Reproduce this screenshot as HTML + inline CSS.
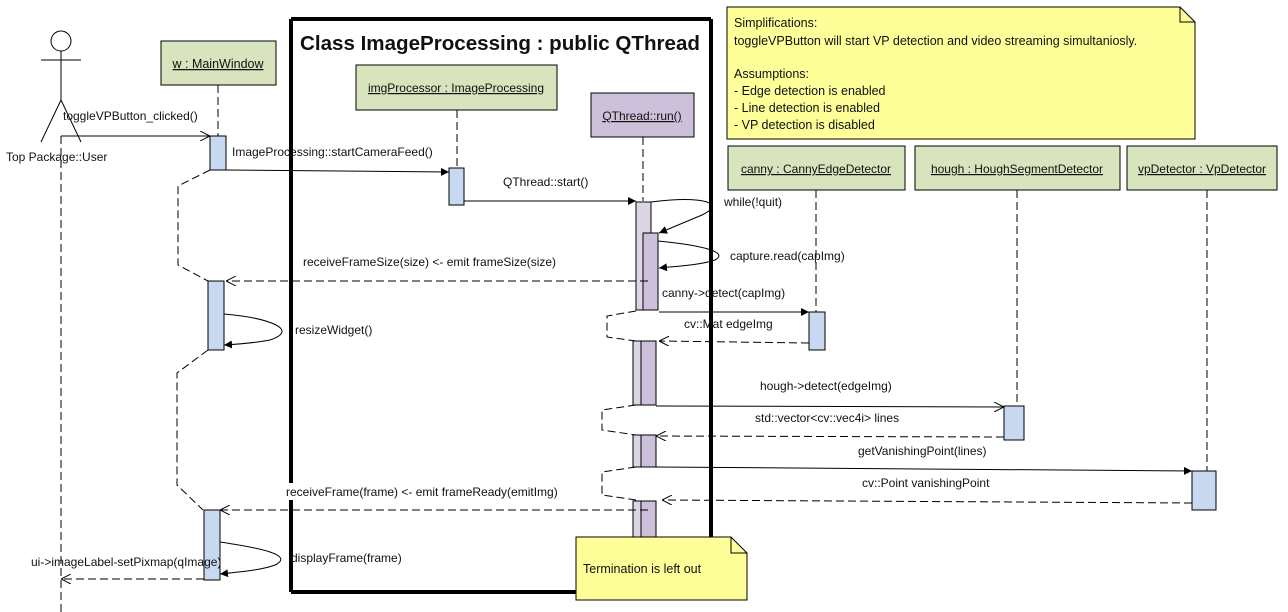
<!DOCTYPE html>
<html><head><meta charset="utf-8"><style>
html,body{margin:0;padding:0;background:#fff;width:1288px;height:612px;overflow:hidden}
svg{display:block}
text{font-family:"Liberation Sans",sans-serif;font-size:12px;fill:#111}
.n{font-size:12.5px}
</style></head><body>
<svg width="1288" height="612" viewBox="0 0 1288 612" xmlns="http://www.w3.org/2000/svg">
<defs>
<marker id="f" viewBox="0 0 10 10" refX="10" refY="5" markerWidth="8" markerHeight="8" orient="auto-start-reverse" markerUnits="userSpaceOnUse"><path d="M0,0 L10,5 L0,10 z" fill="#000"/></marker>
<marker id="o" viewBox="0 0 10 10" refX="10" refY="5" markerWidth="10" markerHeight="10" orient="auto-start-reverse" markerUnits="userSpaceOnUse"><path d="M0,0 L10,5 L0,10" fill="none" stroke="#000" stroke-width="1"/></marker>
</defs>
<g stroke="#000" fill="none" stroke-width="1">
<circle cx="61" cy="41" r="10"/>
<line x1="41" y1="60" x2="81" y2="60"/>
<line x1="61" y1="51" x2="61" y2="100"/>
<line x1="61" y1="100" x2="41" y2="142"/>
<line x1="61" y1="100" x2="81" y2="142"/>
<g stroke-dasharray="8,4">
<line x1="61" y1="136" x2="61" y2="612"/>
<line x1="218" y1="85" x2="218" y2="136"/>
<line x1="457" y1="110" x2="457" y2="168"/>
<line x1="643" y1="137" x2="643" y2="201"/>
<line x1="816" y1="190" x2="816" y2="312"/>
<line x1="1017" y1="190" x2="1017" y2="406"/>
<line x1="1207" y1="190" x2="1207" y2="471"/>
</g>
</g>
<g stroke="#000" stroke-width="4" fill="none">
<line x1="291" y1="19" x2="711" y2="19"/>
<line x1="711" y1="19" x2="711" y2="592"/>
<line x1="291" y1="592" x2="711" y2="592"/>
<line x1="291" y1="19" x2="291" y2="483"/>
<line x1="291" y1="500" x2="291" y2="592"/>
</g>
<text x="300" y="50" style="font-size:20px;font-weight:bold" textLength="400" lengthAdjust="spacingAndGlyphs">Class ImageProcessing : public QThread</text>
<g stroke="#000" stroke-width="1">
<rect x="161" y="41" width="115" height="44" fill="#d7e4bd"/>
<rect x="356" y="65" width="201" height="45" fill="#d7e4bd"/>
<rect x="591" y="93" width="103" height="44" fill="#ccc0da"/>
<rect x="728" y="146" width="177" height="44" fill="#d7e4bd"/>
<rect x="915" y="146" width="205" height="44" fill="#d7e4bd"/>
<rect x="1127" y="146" width="150" height="44" fill="#d7e4bd"/>
</g>
<g>
<text x="218" y="68" text-anchor="middle" text-decoration="underline" class="n">w : MainWindow</text>
<text x="456" y="92" text-anchor="middle" text-decoration="underline">imgProcessor : ImageProcessing</text>
<text x="642" y="120" text-anchor="middle" text-decoration="underline">QThread::run()</text>
<text x="816" y="173" text-anchor="middle" text-decoration="underline">canny : CannyEdgeDetector</text>
<text x="1017" y="173" text-anchor="middle" text-decoration="underline">hough : HoughSegmentDetector</text>
<text x="1202" y="173" text-anchor="middle" text-decoration="underline">vpDetector : VpDetector</text>
</g>
<path d="M727,7 H1180 L1195,22 V139 H727 Z" fill="#ffff99" stroke="#000"/>
<path d="M1180,7 V22 H1195" fill="none" stroke="#000"/>
<g class="n">
<text x="734" y="27" class="n">Simplifications:</text>
<text x="734" y="45" class="n">toggleVPButton will start VP detection and video streaming simultaniosly.</text>
<text x="734" y="78" class="n">Assumptions:</text>
<text x="734" y="95" class="n">- Edge detection is enabled</text>
<text x="734" y="112" class="n">- Line detection is enabled</text>
<text x="734" y="129" class="n">- VP detection is disabled</text>
</g>
<g stroke="#000" fill="none" stroke-dasharray="8,4">
<polyline points="210,170 178,186 178,265 208,281"/>
<polyline points="208,350 177,373 177,485 203,510"/>
<polyline points="636,311 607,316 607,337 636,341"/>
<polyline points="636,405 602,410 602,430 636,435"/>
<polyline points="636,467 602,472 602,495 636,500"/>
</g>
<g stroke="#000" stroke-width="1">
<rect x="210" y="136" width="16" height="34" fill="#c6d9f1"/>
<rect x="208" y="281" width="16" height="69" fill="#c6d9f1"/>
<rect x="204" y="510" width="16" height="70" fill="#c6d9f1"/>
<rect x="449" y="168" width="15" height="37" fill="#c6d9f1"/>
<rect x="636" y="202" width="15" height="108" fill="#dcd6e4"/>
<rect x="643" y="233" width="15" height="77" fill="#ccc0da"/>
<rect x="633" y="341" width="10" height="64" fill="#dcd6e4"/>
<rect x="641" y="341" width="15" height="64" fill="#ccc0da"/>
<rect x="633" y="435" width="10" height="32" fill="#dcd6e4"/>
<rect x="641" y="435" width="15" height="32" fill="#ccc0da"/>
<rect x="633" y="501" width="10" height="40" fill="#dcd6e4"/>
<rect x="641" y="501" width="15" height="40" fill="#ccc0da"/>
<rect x="809" y="312" width="16" height="38" fill="#c6d9f1"/>
<rect x="1004" y="406" width="20" height="34" fill="#c6d9f1"/>
<rect x="1192" y="471" width="24" height="39" fill="#c6d9f1"/>
</g>
<g stroke="#000" fill="none" stroke-width="1">
<line x1="61" y1="136" x2="210" y2="136" marker-end="url(#o)"/>
<line x1="226" y1="170" x2="449" y2="172" marker-end="url(#f)"/>
<line x1="464" y1="201" x2="636" y2="201" marker-end="url(#f)"/>
<path d="M651,202 C700,196 728,202 702,215 L659,233" marker-end="url(#f)"/>
<path d="M658,241 C700,245 730,252 715,260 C700,265 680,266 659,268" marker-end="url(#f)"/>
<line x1="648" y1="281" x2="226" y2="281" stroke-dasharray="8,4" marker-end="url(#o)"/>
<path d="M224,314 C270,318 300,330 270,340 C255,343 240,344 224,345" marker-end="url(#f)"/>
<line x1="659" y1="312" x2="809" y2="312" marker-end="url(#f)"/>
<line x1="809" y1="343" x2="659" y2="341" stroke-dasharray="8,4" marker-end="url(#o)"/>
<line x1="656" y1="406" x2="1004" y2="407" marker-end="url(#o)"/>
<line x1="1004" y1="437" x2="656" y2="436" stroke-dasharray="8,4" marker-end="url(#o)"/>
<line x1="656" y1="467" x2="1192" y2="471" marker-end="url(#f)"/>
<line x1="1192" y1="503" x2="662" y2="500" stroke-dasharray="8,4" marker-end="url(#o)"/>
<line x1="648" y1="510" x2="220" y2="510" stroke-dasharray="8,4" marker-end="url(#o)"/>
<path d="M220,542 C260,548 295,555 275,565 C262,570 240,572 220,574" marker-end="url(#f)"/>
<line x1="204" y1="579" x2="61" y2="579" stroke-dasharray="8,4" marker-end="url(#o)"/>
</g>
<path d="M576,537 H731 L747,553 V600 H576 Z" fill="#ffff99" stroke="#000"/>
<path d="M731,537 V553 H747" fill="none" stroke="#000"/>
<text x="583" y="573" class="n">Termination is left out</text>
<text x="6" y="161">Top Package::User</text>
<text x="63" y="120">toggleVPButton_clicked()</text>
<text x="232" y="156">ImageProcessing::startCameraFeed()</text>
<text x="503" y="186">QThread::start()</text>
<text x="724" y="206">while(!quit)</text>
<text x="730" y="260">capture.read(capImg)</text>
<text x="303" y="266">receiveFrameSize(size) &lt;- emit frameSize(size)</text>
<text x="295" y="334">resizeWidget()</text>
<text x="662" y="297">canny-&gt;detect(capImg)</text>
<text x="684" y="328">cv::Mat edgeImg</text>
<text x="760" y="390">hough-&gt;detect(edgeImg)</text>
<text x="755" y="422">std::vector&lt;cv::vec4i&gt; lines</text>
<text x="858" y="455">getVanishingPoint(lines)</text>
<text x="862" y="487">cv::Point vanishingPoint</text>
<text x="286" y="496">receiveFrame(frame) &lt;- emit frameReady(emitImg)</text>
<text x="291" y="562">displayFrame(frame)</text>
<text x="31" y="566">ui-&gt;imageLabel-setPixmap(qImage)</text>
</svg>
</body></html>
